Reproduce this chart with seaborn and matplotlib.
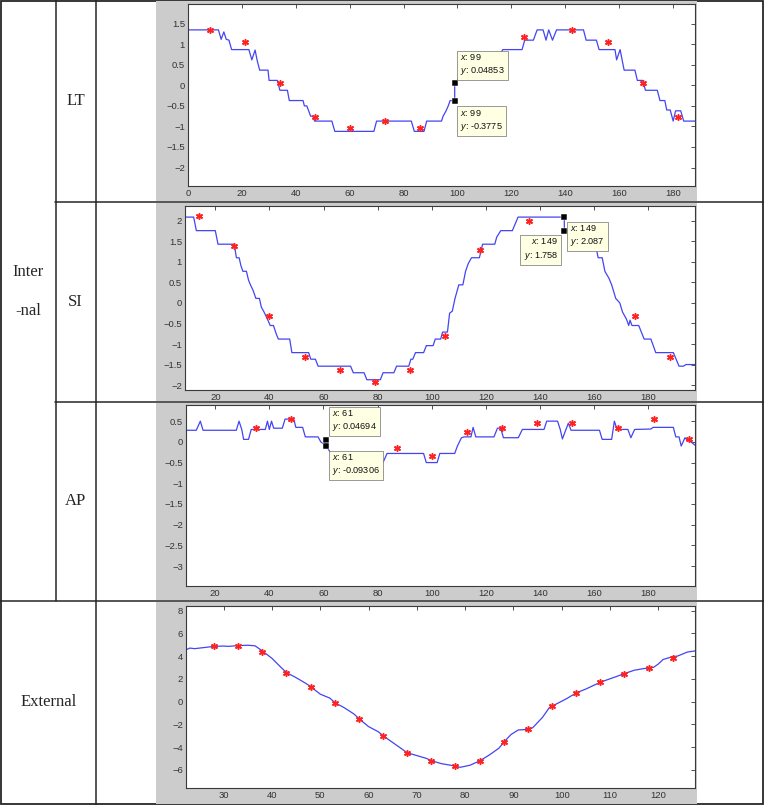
import matplotlib
matplotlib.use("Agg")
import matplotlib.pyplot as plt
from matplotlib.patches import Rectangle
from matplotlib.lines import Line2D
from matplotlib.ticker import FuncFormatter
import seaborn as sns

# ==================================================
# SETTINGS
# ==================================================

sns.set_style("white")
plt.rcParams["font.family"] = ["Liberation Sans", "DejaVu Sans"]
plt.rcParams["mathtext.fontset"] = "custom"
plt.rcParams["mathtext.it"] = "Liberation Sans:italic"
plt.rcParams["mathtext.rm"] = "Liberation Sans"

W, H = 764, 805
BLUE = "#4444f2"
RED = "#ff2222"
PANEL_GRAY = "#cccccc"
LINE_COL = "#262626"

# ==================================================
# DATA
# ==================================================

# LT
lt_line_x = [0, 11.3, 12.3, 13.3, 14.2, 15.2, 16.2, 22.6, 23.7, 24.9, 25.7, 26.6, 29.7, 30.1,
             33.2, 34.1, 36.9, 37.6, 42.7, 43.2, 44.1, 44.8, 45.5, 46.3, 47, 53.4, 54.5, 69,
             70, 82.9, 84, 87.6, 88.6, 94.1, 94.7, 95.8, 96.6, 97.3, 99, 99, 100, 101.5, 103,
             104, 105.5, 116, 116.8, 124, 125, 128.2, 129.6, 131.8, 132.9, 133.9, 135.3, 136.8,
             146.8, 147.8, 151.6, 152.6, 158.5, 159.1, 160.4, 161.2, 161.9, 165.9, 166.8, 168.8,
             169.8, 174.2, 175.2, 177, 177.7, 179, 180.1, 181, 182.9, 184, 188.5]
lt_line_y = [1.35, 1.35, 1.12, 1.3, 1.12, 1.1, 0.87, 0.87, 0.62, 0.86, 0.6, 0.37, 0.37, 0.12,
             0.12, -0.12, -0.12, -0.37, -0.37, -0.5, -0.5, -0.62, -0.75, -0.75, -0.87, -0.87, -1.12, -1.12,
             -0.87, -0.87, -1.12, -1.12, -0.87, -0.87, -0.75, -0.62, -0.5, -0.37, -0.3775, 0.04853, 0.12, 0.4, 0.5,
             0.62, 0.75, 0.75, 0.87, 0.87, 1.1, 1.1, 1.35, 1.35, 1.1, 1.35, 1.1, 1.35,
             1.35, 1.1, 1.1, 0.87, 0.87, 0.62, 0.87, 0.6, 0.37, 0.37, 0.12, 0.12,
             -0.12, -0.12, -0.37, -0.37, -0.6, -0.6, -0.87, -0.62, -0.62, -0.87, -0.87]
lt_star_x = [8, 21, 34, 47, 60, 73, 86, 124.7, 142.7, 156, 169, 182]
lt_star_y = [1.35, 1.06, 0.05, -0.76, -1.05, -0.87, -1.05, 1.17, 1.35, 1.06, 0.06, -0.76]
lt_tip_x = [99, 99]
lt_tip_y = [0.04853, -0.3775]

# SI
si_line_x = [8.8, 12, 13, 20, 21, 27, 27.8, 28.8, 29.5, 30.2, 31.5, 32.3, 33, 34, 35, 36.3, 37,
             38, 39.3, 40.3, 41.5, 42.5, 43.3, 47.5, 48.3, 54.5, 55.3, 57, 58, 70, 71, 75, 76,
             81, 82, 86, 87, 91.5, 92.3, 93, 94, 97, 98, 100.5, 101.3, 103.3, 104, 105.8, 106.6,
             107.6, 108.6, 110, 111.5, 112.5, 113.5, 114.7, 117.6, 118.8, 123.3, 124, 125.5,
             129.8, 131.9, 149, 149, 154, 155, 160.5, 161.5, 163, 164, 165.5, 166.5, 168, 169.5,
             170.5, 172, 172.8, 173.3, 174, 176.5, 178.5, 181, 182.8, 189.3, 191.4, 193, 194, 197.3]
si_line_y = [2.09, 2.09, 1.76, 1.76, 1.43, 1.43, 1.1, 1.1, 0.9, 0.77, 0.77, 0.55, 0.44, 0.3, 0.11, 0.11, -0.1,
             -0.22, -0.4, -0.55, -0.55, -0.75, -0.88, -0.88, -1.21, -1.21, -1.37, -1.37, -1.54, -1.54, -1.7, -1.7, -1.87,
             -1.87, -1.7, -1.7, -1.54, -1.54, -1.37, -1.37, -1.21, -1.21, -1.04, -1.04, -0.88, -0.88, -0.71, -0.71, -0.25,
             -0.2, 0.11, 0.44, 0.44, 0.77, 0.96, 1.1, 1.1, 1.43, 1.43, 1.6, 1.76,
             1.76, 2.09, 2.09, 1.758, 1.76, 1.43, 1.43, 1.1, 1.1, 0.77, 0.6, 0.44, 0.11, 0.0,
             -0.22, -0.4, -0.55, -0.42, -0.55, -0.55, -0.88, -0.88, -1.21, -1.21, -1.54, -1.54, -1.5, -1.5]
si_star_x = [14, 27, 40, 53, 66, 79, 92, 105, 118, 136, 162, 175, 188]
si_star_y = [2.11, 1.39, -0.31, -1.31, -1.63, -1.92, -1.63, -0.81, 1.29, 2.0, 1.39, -0.31, -1.31]
si_tip_x = [149, 149]
si_tip_y = [2.087, 1.758]

# AP
ap_line_x = [9.2, 13, 14.5, 15.5, 27.8, 28.8, 29.8, 30.5, 32.3, 33.3, 38.5, 39.3, 40, 40.8, 41.6,
             44.8, 45.8, 49, 49.8, 52.3, 53.3, 58, 59, 60, 61, 62, 63, 64, 82, 83.5, 97, 98, 102,
             103, 108.5, 109.5, 111, 112, 114.5, 115.3, 116.3, 123, 124.3, 125.5, 126.5, 132, 133.5,
             141.5, 142.5, 146.5, 147.5, 148.3, 149.5, 150.5, 151.5, 162, 163, 166.5, 167.5, 168.5,
             172.5, 173.6, 175, 181, 181.8, 189.3, 190.2, 191.4, 192.2, 193.6, 194.3, 195.8, 197.3]
ap_line_y = [0.28, 0.28, 0.5, 0.28, 0.28, 0.5, 0.3, 0.06, 0.06, 0.3, 0.3, 0.5, 0.3, 0.5, 0.33,
             0.33, 0.55, 0.55, 0.35, 0.35, 0.12, 0.12, 0.0, -0.05, -0.09, -0.2, -0.3, -0.5, -0.5, -0.28, -0.28, -0.5, -0.5,
             -0.28, -0.28, -0.1, 0.1, 0.12, 0.12, 0.35, 0.12, 0.12, 0.33, 0.33, 0.1, 0.1, 0.3,
             0.3, 0.5, 0.5, 0.3, 0.07, 0.28, 0.45, 0.28, 0.28, 0.06, 0.06, 0.5, 0.3,
             0.3, 0.1, 0.3, 0.31, 0.35, 0.35, 0.12, 0.12, -0.1, 0.1, 0.05, 0.0, -0.08]
ap_star_x = [35, 48, 87, 100, 113, 126, 139, 152, 169, 182, 195]
ap_star_y = [0.345, 0.55, -0.15, -0.35, 0.24, 0.345, 0.45, 0.45, 0.34, 0.55, 0.06]
ap_tip_x = [61, 61]
ap_tip_y = [0.04694, -0.09306]

# External
ex_line_x = [22.2, 23, 24, 25, 28, 30, 31, 33, 35, 36.5, 38, 40, 42, 43, 45, 47, 48, 50, 52, 53,
             55, 57, 58, 60, 62, 63, 65, 67, 68, 70, 72, 73, 75, 77, 79, 81, 83, 85, 87, 88,
             89.5, 91, 93, 94, 96, 97.5, 98.5, 101, 103, 105, 108, 111, 113, 115, 117, 119,
             120, 121, 123, 124, 126, 127.6]
ex_line_y = [4.55, 4.7, 4.65, 4.7, 4.85, 4.88, 4.85, 4.92, 4.95, 4.9, 4.45, 3.8, 2.95, 2.55, 2.1, 1.6, 1.32, 0.65, 0.3, -0.09,
             -0.55, -1.1, -1.5, -2.2, -2.65, -3.0, -3.6, -4.2, -4.5, -4.75, -5.0, -5.2, -5.45, -5.6, -5.78, -5.6, -5.22, -4.7, -4.1, -3.58,
             -2.9, -2.5, -2.45, -2.3, -1.4, -0.5, -0.3, 0.25, 0.76, 1.1, 1.7, 2.15, 2.46, 2.75, 2.9, 3.0,
             3.3, 3.7, 3.95, 4.0, 4.35, 4.45]
ex_star_x = [28, 33, 38, 43, 48, 53, 58, 63, 68, 73, 78, 83, 88, 93, 98, 103, 108, 113, 118, 123]
ex_star_y = [4.84, 4.9, 4.4, 2.55, 1.32, -0.09, -1.5, -2.99, -4.5, -5.22, -5.63, -5.22, -3.58, -2.43,
             -0.35, 0.76, 1.73, 2.46, 2.96, 3.81]

# ==================================================
# HELPERS
# ==================================================

fig = plt.figure(figsize=(W / 100, H / 100), dpi=100)

fmt = FuncFormatter(lambda v, p: ("%g" % round(v, 6)).replace("-", "\u2212"))


def px_axes(left, top, right, bottom):
    return fig.add_axes([left / W, 1 - bottom / H, (right - left) / W, (bottom - top) / H])


def draw_panel(ax, lx, ly, sx, sy, xlim, ylim, xticks, yticks):
    sns.lineplot(x=lx, y=ly, ax=ax, sort=False, estimator=None,
                 color=BLUE, linewidth=0.9)
    sns.scatterplot(x=sx, y=sy, ax=ax, marker=(6, 2, 0), color=RED,
                    s=17, linewidth=1.1, zorder=4)
    ax.set_xlim(xlim)
    ax.set_ylim(ylim)
    ax.set_xticks(xticks)
    ax.set_yticks(yticks)
    ax.xaxis.set_major_formatter(fmt)
    ax.yaxis.set_major_formatter(fmt)
    ax.tick_params(direction="in", length=3.2, width=0.6, top=True, right=True,
                   labelsize=6.8, colors="#333333", pad=2.2)
    for s in ax.spines.values():
        s.set_visible(True)
        s.set_color("#3a3a3a")
        s.set_linewidth(0.8)
    ax.set_facecolor("white")
    ax.set_xlabel("")
    ax.set_ylabel("")


def datatip(ax, x, y, dx, dy, ha, va):
    ax.annotate(f"$x$: {x:g}\n$y$: {y:g}", xy=(x, y), xytext=(dx, dy),
                textcoords="offset points", ha=ha, va=va, fontsize=6.6,
                linespacing=1.4, color="#111111", annotation_clip=False,
                bbox=dict(boxstyle="square,pad=0.35", fc="#ffffe4", ec="#707070", lw=0.5),
                zorder=6)


# ==================================================
# TABLE BACKGROUND
# ==================================================

bg = fig.add_axes([0, 0, 1, 1])
bg.set_xlim(0, W)
bg.set_ylim(H, 0)
bg.axis("off")

lines = [
    ((55.5, 55.5), (0, 601)),
    ((96, 96), (0, H)),
    ((55, W), (202, 202)),
    ((55, W), (402, 402)),
    ((0, W), (601, 601)),
]
for xs, ys in lines:
    bg.add_line(Line2D(xs, ys, color=LINE_COL, lw=1.1, zorder=1))
bg.add_patch(Rectangle((0.6, 0.6), W - 1.8, H - 1.6, fill=False, ec=LINE_COL, lw=1.3, zorder=1))

for top, height in [(1.5, 199.5), (203, 198), (403, 197), (602, 201.5)]:
    bg.add_patch(Rectangle((156, top), 541, height, fc=PANEL_GRAY, ec="none", zorder=2))

serif = ["Liberation Serif", "DejaVu Serif"]
bg.text(75.5, 101, "LT", ha="center", va="center", fontsize=12, family=serif)
bg.text(75.5, 302, "SI", ha="center", va="center", fontsize=12, family=serif)
bg.text(75.5, 501, "AP", ha="center", va="center", fontsize=12, family=serif)
bg.text(28, 272, "Inter", ha="center", va="center", fontsize=12, family=serif)
bg.text(28, 311, "-nal", ha="center", va="center", fontsize=12, family=serif)
bg.text(49, 702, "External", ha="center", va="center", fontsize=12, family=serif)

# ==================================================
# PANELS
# ==================================================

ax1 = px_axes(188, 4, 695, 186)
draw_panel(ax1, lt_line_x, lt_line_y, lt_star_x, lt_star_y,
           (0, 188.2), (-2.45, 1.98), range(0, 181, 20),
           [-2, -1.5, -1, -0.5, 0, 0.5, 1, 1.5])
sns.scatterplot(x=lt_tip_x, y=lt_tip_y, ax=ax1, marker="s", color="black", s=18, zorder=5)
datatip(ax1, lt_tip_x[0], lt_tip_y[0], 4, 4.5, "left", "bottom")
datatip(ax1, lt_tip_x[1], lt_tip_y[1], 4, -4.8, "left", "top")

ax2 = px_axes(185, 206, 695, 390)
draw_panel(ax2, si_line_x, si_line_y, si_star_x, si_star_y,
           (8.8, 197.3), (-2.12, 2.36), range(20, 181, 20),
           [-2, -1.5, -1, -0.5, 0, 0.5, 1, 1.5, 2])
sns.scatterplot(x=si_tip_x, y=si_tip_y, ax=ax2, marker="s", color="black", s=18, zorder=5)
datatip(ax2, si_tip_x[0], si_tip_y[0], 4.4, -4.2, "left", "top")
datatip(ax2, si_tip_x[1], si_tip_y[1], -4.5, -4.1, "right", "top")

ax3 = px_axes(186, 405, 695, 586)
draw_panel(ax3, ap_line_x, ap_line_y, ap_star_x, ap_star_y,
           (9.2, 197.3), (-3.48, 0.89), range(20, 181, 20),
           [-3, -2.5, -2, -1.5, -1, -0.5, 0, 0.5])
sns.scatterplot(x=ap_tip_x, y=ap_tip_y, ax=ax3, marker="s", color="black", s=18, zorder=5)
datatip(ax3, ap_tip_x[0], ap_tip_y[0], 4, 5, "left", "bottom")
datatip(ax3, ap_tip_x[1], ap_tip_y[1], 4, -4.5, "left", "top")

ax4 = px_axes(186, 606, 695, 788)
draw_panel(ax4, ex_line_x, ex_line_y, ex_star_x, ex_star_y,
           (22.2, 127.6), (-7.6, 8.4), range(30, 121, 10),
           [-6, -4, -2, 0, 2, 4, 6, 8])

fig.savefig("out.png", dpi=100)
